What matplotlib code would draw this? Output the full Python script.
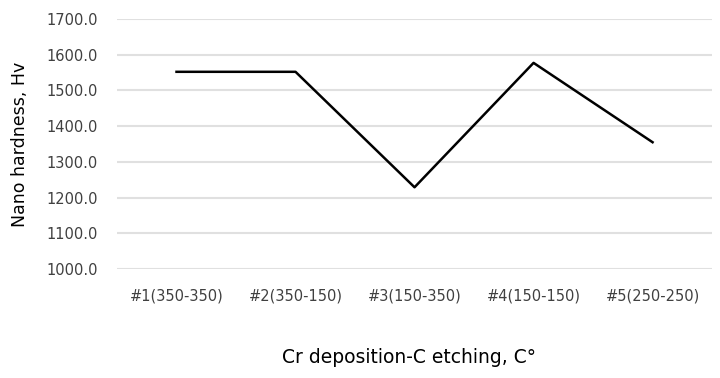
import matplotlib.pyplot as plt
import numpy as np

plt.rcParams['font.family'] = ['DejaVu Sans']

samples = ['#1(350-350)', '#2(350-150)', '#3(150-350)', '#4(150-150)', '#5(250-250)']
hardness = [1552, 1552, 1229, 1577, 1355]
yticks = [1000, 1100, 1200, 1300, 1400, 1500, 1600, 1700]

fig = plt.figure(figsize=(7.2, 3.78), dpi=100)
ax = fig.add_axes([0.1625, 0.288, 0.8265, 0.662])

x = np.arange(len(samples))
ax.plot(x, hardness, color='black', linewidth=1.8, zorder=3)

ax.set_xlim(-0.5, len(samples) - 0.5)
ax.set_ylim(1000, 1700)
ax.set_yticks(yticks)
ax.set_yticklabels(['%.1f' % v for v in yticks])
ax.set_xticks(x)
ax.set_xticklabels(samples)
ax.tick_params(axis='both', length=0, labelsize=10.5, colors='#404040')
ax.tick_params(axis='x', pad=14)
ax.tick_params(axis='y', pad=14)
ax.grid(axis='y', color='#e0e0e0', linewidth=1.5)
ax.set_axisbelow(True)
for s in ax.spines.values():
    s.set_visible(False)

ax.set_ylabel('Nano hardness, Hv', fontsize=12.5, labelpad=12)
ax.set_xlabel('Cr deposition-C etching, C°', fontsize=13.5, labelpad=28)
ax.xaxis.set_label_coords(0.49, -0.315)

fig.savefig('out.png', dpi=100)
